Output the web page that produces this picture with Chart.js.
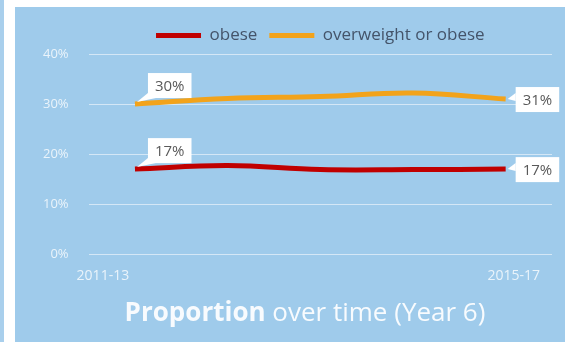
<!DOCTYPE html>
<html>
<head>
<meta charset="utf-8">
<script src="https://cdn.jsdelivr.net/npm/chart.js@4.4.1/dist/chart.umd.min.js"></script>
<style>
  html, body { margin: 0; padding: 0; background: #ffffff; }
  body { width: 565px; height: 342px; position: relative; overflow: hidden; font-family: "Open Sans", sans-serif; }
  .edge { position: absolute; left: 0; top: 0; width: 4px; height: 342px; background: #a9cfec; }
  .panel { position: absolute; left: 15px; top: 7px; width: 550px; height: 335px; background: #9fcbeb; }
  .panel canvas { position: absolute; left: 0; top: 0; }
  .caption { position: absolute; left: 0; top: 288px; width: 580px; text-align: center;
             color: rgba(255, 255, 255, 0.92); font-size: 26px; line-height: 32px; }
  .caption b { font-weight: 700; }
</style>
</head>
<body>
<div class="edge"></div>
<div class="panel">
  <canvas id="trend" width="550" height="335"></canvas>
  <div class="caption"><b>Proportion</b> over time (Year 6)</div>
</div>
<script>
const periods = ["2011-13", "2012-14", "2013-15", "2014-16", "2015-17"];
const obese = [17, 17.7, 16.9, 16.9, 17];
const overweightOrObese = [30, 31.1, 31.5, 32.2, 31];
const endPeriods = ["2011-13", "2015-17"];
const yTicks = [0, 10, 20, 30, 40];

const RED = "#c00000";
const ORANGE = "#f2a31b";
const TICK_COLOR = "rgba(255, 255, 255, 0.78)";

// white boxed value tags at the first and last point of each line
const callouts = {
  id: "callouts",
  afterDatasetsDraw(chart) {
    const ctx = chart.ctx;
    ctx.save();
    ctx.font = "15px 'Open Sans'";
    ctx.textAlign = "center";
    ctx.textBaseline = "middle";
    chart.data.datasets.forEach((ds, di) => {
      const pts = chart.getDatasetMeta(di).data;
      [0, pts.length - 1].forEach(i => {
        const p = pts[i];
        const text = Math.round(ds.data[i]) + "%";
        const w = ctx.measureText(text).width + 14;
        const h = 25;
        let bx, by;
        ctx.fillStyle = "#ffffff";
        ctx.beginPath();
        if (i === 0) {
          bx = p.x + 13;
          by = p.y - 31;
          ctx.moveTo(bx, by + h - 5);
          ctx.lineTo(bx + 8, by + h);
          ctx.lineTo(p.x + 2, p.y - 2);
        } else {
          bx = p.x + 10;
          by = p.y - 12;
          ctx.moveTo(bx, p.y - 6);
          ctx.lineTo(bx, p.y + 2);
          ctx.lineTo(p.x + 2, p.y);
        }
        ctx.closePath();
        ctx.fill();
        ctx.fillRect(bx, by, w, h);
        ctx.fillStyle = "#595959";
        ctx.fillText(text, bx + w / 2, by + h / 2 + 1);
      });
    });
    ctx.restore();
  }
};

new Chart(document.getElementById("trend"), {
  type: "line",
  data: {
    labels: periods,
    datasets: [
      {
        label: "obese",
        data: obese,
        borderColor: RED,
        backgroundColor: RED,
        borderWidth: 5,
        tension: 0.4,
        pointRadius: 0
      },
      {
        label: "overweight or obese",
        data: overweightOrObese,
        borderColor: ORANGE,
        backgroundColor: ORANGE,
        borderWidth: 5,
        tension: 0.4,
        pointRadius: 0
      }
    ]
  },
  options: {
    responsive: false,
    animation: false,
    layout: { padding: { left: 8, right: 8, top: 8, bottom: 45 } },
    plugins: {
      legend: {
        position: "top",
        fullSize: false,
        labels: {
          boxWidth: 45,
          boxHeight: 5,
          padding: 12,
          color: "#44546a",
          font: { family: "Open Sans", size: 17 },
          generateLabels: chart =>
            Chart.defaults.plugins.legend.labels.generateLabels(chart).map(l =>
              Object.assign(l, { lineWidth: 0, fillStyle: l.strokeStyle }))
        }
      },
      tooltip: { enabled: false }
    },
    scales: {
      x: {
        display: false,
        offset: true
      },
      x2: {
        type: "category",
        labels: endPeriods,
        position: "bottom",
        offset: false,
        grid: { display: false, drawTicks: false },
        border: { display: false },
        ticks: {
          align: "inner",
          labelOffset: -12,
          padding: 13,
          maxRotation: 0,
          autoSkip: false,
          color: TICK_COLOR,
          font: { family: "Open Sans", size: 14 }
        }
      },
      y: {
        min: 0,
        max: 40,
        afterBuildTicks: scale => { scale.ticks = yTicks.map(v => ({ value: v })); },
        grid: { color: "rgba(255, 255, 255, 0.55)", lineWidth: 1, drawTicks: false },
        border: { display: false },
        ticks: {
          padding: 20,
          color: TICK_COLOR,
          font: { family: "Open Sans", size: 13 },
          callback: v => v + "%"
        }
      }
    }
  },
  plugins: [callouts]
});
</script>
</body>
</html>
